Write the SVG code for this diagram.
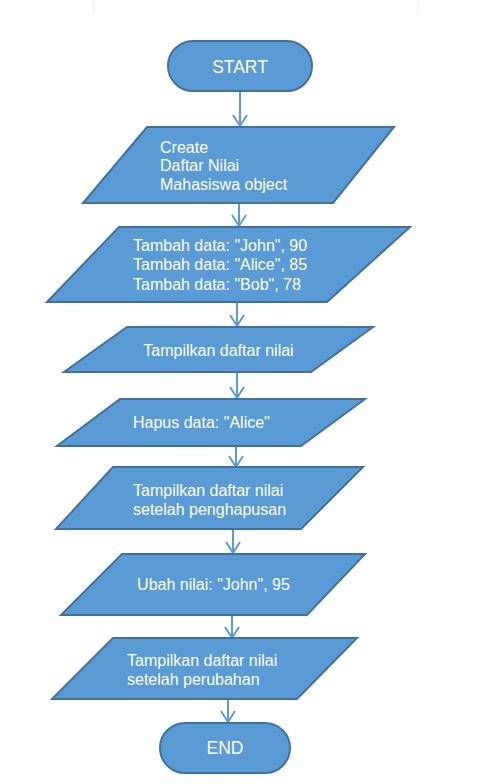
<svg xmlns="http://www.w3.org/2000/svg" width="480" height="784" viewBox="0 0 480 784">
<defs>
<marker id="arr" markerWidth="14" markerHeight="16" refX="12" refY="8" orient="auto" markerUnits="userSpaceOnUse" viewBox="0 0 14 16">
<path d="M1,1 L12,8 L1,15" fill="none" stroke="#5B9BD5" stroke-width="2"/>
</marker>
</defs>
<style>
.shape{fill:#5B9BD5;stroke:#41719C;stroke-width:2}
.t{fill:#ffffff;font-family:"Liberation Sans",Arial,sans-serif;font-size:16px}
.tb{fill:#ffffff;font-family:"Liberation Sans",Arial,sans-serif;font-size:17.5px;text-anchor:middle}
.c{text-anchor:middle}
.conn{stroke:#5B9BD5;stroke-width:2;fill:none;marker-end:url(#arr)}
.edge{stroke:#eeeeee;stroke-width:1}
</style>
<rect width="480" height="784" fill="#ffffff"/>
<line class="edge" x1="93.5" y1="0" x2="93.5" y2="12"/>
<line class="edge" x1="417.5" y1="0" x2="417.5" y2="12"/>
<g id="connectors">
<line class="conn" x1="240" y1="92" x2="240" y2="126"/>
<line class="conn" x1="239" y1="203" x2="239" y2="226"/>
<line class="conn" x1="237" y1="303" x2="237" y2="326"/>
<line class="conn" x1="237" y1="372" x2="237" y2="398"/>
<line class="conn" x1="236" y1="446" x2="236" y2="467"/>
<line class="conn" x1="233" y1="529" x2="233" y2="553"/>
<line class="conn" x1="232" y1="615" x2="232" y2="638"/>
<line class="conn" x1="228" y1="699" x2="228" y2="722"/>
</g>
<g id="start">
<rect class="shape" x="168" y="41" width="144" height="50" rx="25" ry="25"/>
<text class="tb" x="240" y="73">START</text>
</g>
<g id="create">
<polygon class="shape" points="147,127 394,127 333,203 83,203"/>
<text class="t" x="160" y="153">Create</text>
<text class="t" x="160" y="171">Daftar Nilai</text>
<text class="t" x="160" y="190">Mahasiswa object</text>
</g>
<g id="tambah">
<polygon class="shape" points="119,227 410,227 327,302 47,302"/>
<text class="t" x="133" y="251">Tambah data: "John", 90</text>
<text class="t" x="133" y="270">Tambah data: "Alice", 85</text>
<text class="t" x="133" y="290">Tambah data: "Bob", 78</text>
</g>
<g id="tampil1">
<polygon class="shape" points="127,327 373,327 311,372 64,372"/>
<text class="t c" x="218.5" y="356">Tampilkan daftar nilai</text>
</g>
<g id="hapus">
<polygon class="shape" points="120,399 365,399 301,446 57,446"/>
<text class="t" x="133" y="428">Hapus data: "Alice"</text>
</g>
<g id="tampil2">
<polygon class="shape" points="113,467 363,467 301,529 56,529"/>
<text class="t" x="133" y="496">Tampilkan daftar nilai</text>
<text class="t" x="133" y="515">setelah penghapusan</text>
</g>
<g id="ubah">
<polygon class="shape" points="122,554 365,554 307,615 61,615"/>
<text class="t c" x="213.5" y="590">Ubah nilai: "John", 95</text>
</g>
<g id="tampil3">
<polygon class="shape" points="113,638 357,638 297,699 52,699"/>
<text class="t" x="127" y="666">Tampilkan daftar nilai</text>
<text class="t" x="127" y="685">setelah perubahan</text>
</g>
<g id="end">
<rect class="shape" x="160" y="723" width="130" height="50" rx="25" ry="25"/>
<text class="tb" x="225" y="754">END</text>
</g>
</svg>
